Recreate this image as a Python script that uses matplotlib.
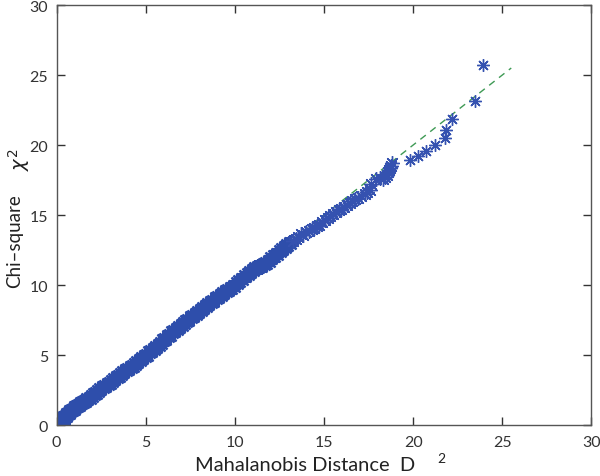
import matplotlib.pyplot as plt

# sorted Mahalanobis distances (x) and chi-square quantiles (y)
d2 = [0.30, 0.33, 0.37, 0.44, 0.51, 0.59, 0.67, 0.76, 0.86, 0.95,
      1.06, 1.16, 1.27, 1.38, 1.49, 1.61, 1.72, 1.85, 1.96, 2.09,
      2.21, 2.34, 2.46, 2.60, 2.71, 2.86, 2.97, 3.12, 3.23, 3.38,
      3.49, 3.64, 3.75, 3.90, 4.01, 4.16, 4.27, 4.42, 4.53, 4.68,
      4.79, 4.94, 5.05, 5.20, 5.31, 5.46, 5.57, 5.72, 5.83, 5.98,
      6.09, 6.24, 6.35, 6.50, 6.61, 6.76, 6.87, 7.02, 7.13, 7.28,
      7.39, 7.55, 7.67, 7.83, 7.95, 8.11, 8.23, 8.39, 8.51, 8.67,
      8.79, 8.95, 9.07, 9.23, 9.35, 9.51, 9.64, 9.81, 9.94, 10.11,
      10.24, 10.41, 10.54, 10.71, 10.84, 11.01, 11.14, 11.31, 11.44, 11.61,
      11.74, 11.91, 12.04, 12.21, 12.34, 12.51, 12.64, 12.81, 12.94, 13.11,
      13.24, 13.41, 13.54, 13.71, 13.84, 14.01, 14.14, 14.31, 14.44, 14.61,
      14.74, 14.91, 15.03, 15.21, 15.36, 15.52, 15.66, 15.83, 15.97, 16.12,
      16.28, 16.43, 16.58, 16.74, 16.90, 17.08, 17.28, 17.40, 17.56, 17.65,
      17.90, 18.12, 18.30, 18.42, 18.53, 18.60, 18.64, 18.70, 18.74, 18.81,
      19.84, 20.27, 20.70, 21.24, 21.76, 21.82, 22.19, 23.44, 23.91]
chi2 = [0.12, 0.28, 0.40, 0.55, 0.66, 0.78, 0.88, 0.97, 1.07, 1.17,
        1.27, 1.36, 1.46, 1.55, 1.65, 1.74, 1.85, 1.96, 2.08, 2.20,
        2.32, 2.44, 2.56, 2.68, 2.79, 2.91, 3.02, 3.15, 3.26, 3.40,
        3.51, 3.65, 3.76, 3.90, 4.01, 4.15, 4.25, 4.39, 4.50, 4.65,
        4.76, 4.91, 5.03, 5.18, 5.30, 5.45, 5.57, 5.74, 5.87, 6.04,
        6.17, 6.33, 6.46, 6.62, 6.74, 6.89, 7.00, 7.15, 7.26, 7.41,
        7.53, 7.69, 7.81, 7.96, 8.08, 8.24, 8.36, 8.51, 8.63, 8.78,
        8.89, 9.04, 9.15, 9.29, 9.40, 9.55, 9.67, 9.82, 9.95, 10.13,
        10.28, 10.46, 10.61, 10.80, 10.94, 11.10, 11.20, 11.30, 11.38, 11.48,
        11.58, 11.75, 11.92, 12.10, 12.24, 12.40, 12.54, 12.71, 12.85, 13.00,
        13.13, 13.29, 13.42, 13.62, 13.55, 13.78, 13.85, 13.98, 14.06, 14.22,
        14.32, 14.50, 14.62, 14.78, 14.90, 15.06, 15.18, 15.33, 15.45, 15.60,
        15.72, 15.86, 15.97, 16.11, 16.24, 16.36, 16.50, 16.62, 16.82, 17.18,
        17.58, 17.62, 17.60, 17.75, 17.89, 18.05, 18.20, 18.33, 18.48, 18.72,
        18.91, 19.24, 19.60, 20.00, 20.50, 21.10, 21.88, 23.12, 25.73]

# reference line y = x
ref_x = [0, 25.5]
ref_y = [0, 25.5]

plt.rcParams['font.family'] = ['Lato', 'DejaVu Sans']
fig = plt.figure(figsize=(6, 4.77), dpi=100)
ax = fig.add_axes([0.0943, 0.1069, 0.8915, 0.8805])

ax.plot(ref_x, ref_y, linestyle=(0, (5, 4)), color='#3f9a55', linewidth=1,
        zorder=1)
# dense part drawn heavier so it merges into the solid band of the original
ax.plot(d2[:100], chi2[:100], linestyle='none', marker=(8, 2, 0), markersize=12,
        markeredgewidth=1.7, color='#2e4eab', zorder=2)
ax.plot(d2[100:140], chi2[100:140], linestyle='none', marker=(8, 2, 0),
        markersize=10.5, markeredgewidth=1.0, color='#3552b0', zorder=2)
ax.plot(d2[140:], chi2[140:], linestyle='none', marker=(8, 2, 0), markersize=9,
        markeredgewidth=1.0, color='#3552b0', zorder=2)

ax.set_xlim(0, 30)
ax.set_ylim(0, 30)
ax.set_xticks(range(0, 31, 5))
ax.set_yticks(range(0, 31, 5))
ax.tick_params(direction='in', length=6, width=1, colors='#333333',
               labelsize=11.5, top=True, right=True, pad=6)
ax.tick_params(axis='x', pad=7)
for s in ax.spines.values():
    s.set_color('#555555')
    s.set_linewidth(1)

fig.text(305 / 600, 1 - 466 / 477, 'Mahalanobis Distance  D', fontsize=14.5,
         ha='center', va='center', color='#222222')
fig.text(441 / 600, 1 - 459 / 477, '2', fontsize=10, ha='center',
         va='center', color='#222222')
fig.text(15 / 600, 1 - 241 / 477, 'Chi–square', fontsize=13.5, rotation=90,
         ha='center', va='center', color='#222222')
fig.text(19 / 600, 1 - 160 / 477, r'$\chi^2$', fontsize=14, rotation=90,
         ha='center', va='center', color='#222222')

fig.savefig('out.png', dpi=100)
